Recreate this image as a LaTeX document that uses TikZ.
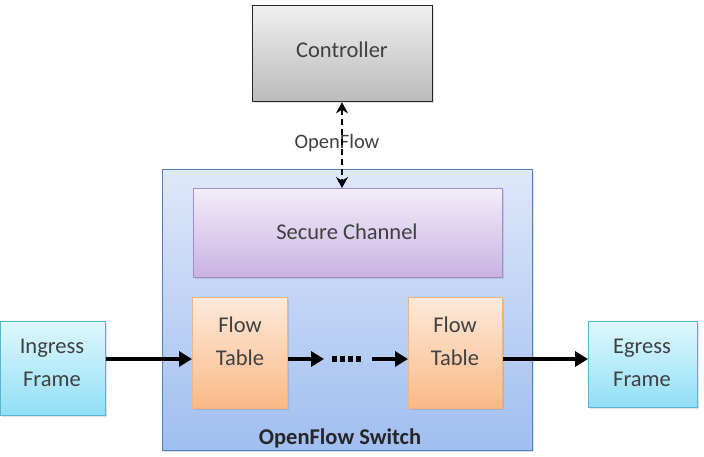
\documentclass[tikz,border=0pt]{standalone}
\usepackage{fontspec}
\setmainfont{Carlito}
\usetikzlibrary{arrows.meta,shadows}
\definecolor{txt}{HTML}{404040}
\tikzset{
  box/.style={draw, line width=1pt, inner sep=0pt, align=center, text=txt,
    font=\fontsize{22.5}{27}\selectfont,
    drop shadow={opacity=0.25, shadow xshift=1.5pt, shadow yshift=-1.5pt}},
  lbl/.style={text=txt, font=\fontsize{22.5}{33}\selectfont, align=center, inner sep=0pt},
  ctrl/.style={box, draw=black!85, line width=1.3pt, top color=black!6, bottom color=black!27},
  switchbox/.style={box, draw={rgb,255:red,79;green,129;blue,189}, top color={rgb,255:red,222;green,232;blue,250}, bottom color={rgb,255:red,160;green,190;blue,240}},
  secure/.style={box, draw={rgb,255:red,165;green,140;blue,200}, top color={rgb,255:red,243;green,237;blue,250}, bottom color={rgb,255:red,200;green,178;blue,225}},
  flowbox/.style={box, draw={rgb,255:red,245;green,180;blue,130}, top color={rgb,255:red,253;green,234;blue,218}, bottom color={rgb,255:red,249;green,185;blue,135}},
  framebox/.style={box, draw={rgb,255:red,90;green,180;blue,205}, top color={rgb,255:red,222;green,247;blue,253}, bottom color={rgb,255:red,145;green,223;blue,245}},
  thick arrow/.style={line width=4pt, -{Triangle[length=13pt,width=15pt]}},
}
\begin{document}
\begin{tikzpicture}[x=1pt,y=-1pt]
\useasboundingbox (0,0) rectangle (704,456);
% switch container
\node[switchbox, minimum width=370pt, minimum height=281pt, anchor=north west] (sw) at (162,169) {};
\node[font=\fontsize{22.5}{27}\selectfont\bfseries, text=black!85, anchor=center] (swl) at (340,438) {OpenFlow Switch};
% controller
\node[ctrl, minimum width=180pt, minimum height=96pt, anchor=north west] (ctl) at (252,5) {};
\node[lbl] (ctlt) at (342,50) {Controller};
% secure channel
\node[secure, minimum width=309pt, minimum height=89pt, anchor=north west] (sc) at (193,188) {};
\node[lbl] (sct) at (347,232) {Secure Channel};
% flow tables
\node[flowbox, minimum width=95pt, minimum height=111pt, anchor=north west] (ft1) at (192,297) {};
\node[lbl] (ft1t) at (240,341) {Flow\\Table};
\node[flowbox, minimum width=94pt, minimum height=111pt, anchor=north west] (ft2) at (408,297) {};
\node[lbl] (ft2t) at (455,341) {Flow\\Table};
% frames
\node[framebox, minimum width=105pt, minimum height=94pt, anchor=north west] (ing) at (0,321) {};
\node[lbl] (ingt) at (52,363) {Ingress\\Frame};
\node[framebox, minimum width=109pt, minimum height=86pt, anchor=north west] (egr) at (588,321) {};
\node[lbl] (egrt) at (642,363) {Egress\\Frame};
% OpenFlow link
\coordinate (lx) at (342,0);
\node[text=txt, font=\fontsize{20.5}{24}\selectfont] (ofl) at (337,143) {OpenFlow};
\draw[line width=1.8pt, dash pattern=on 6pt off 4pt, {Stealth[length=11pt,width=12pt]}-{Stealth[length=11pt,width=12pt]}] (ctl.south -| lx) -- (sc.north -| lx);
% data path
\coordinate (row) at (0,359);
\coordinate (d1) at (324,359);
\coordinate (d2) at (372,359);
\coordinate (e1) at (332,359);
\coordinate (e2) at (363,359);
\draw[thick arrow] (ing.east |- row) -- (ft1.west |- row);
\draw[thick arrow] (ft1.east |- row) -- (d1);
\draw[line width=6pt, dash pattern=on 5pt off 3pt] (e1) -- (e2);
\draw[thick arrow] (d2) -- (ft2.west |- row);
\draw[thick arrow] (ft2.east |- row) -- (egr.west |- row);
\end{tikzpicture}
\end{document}
